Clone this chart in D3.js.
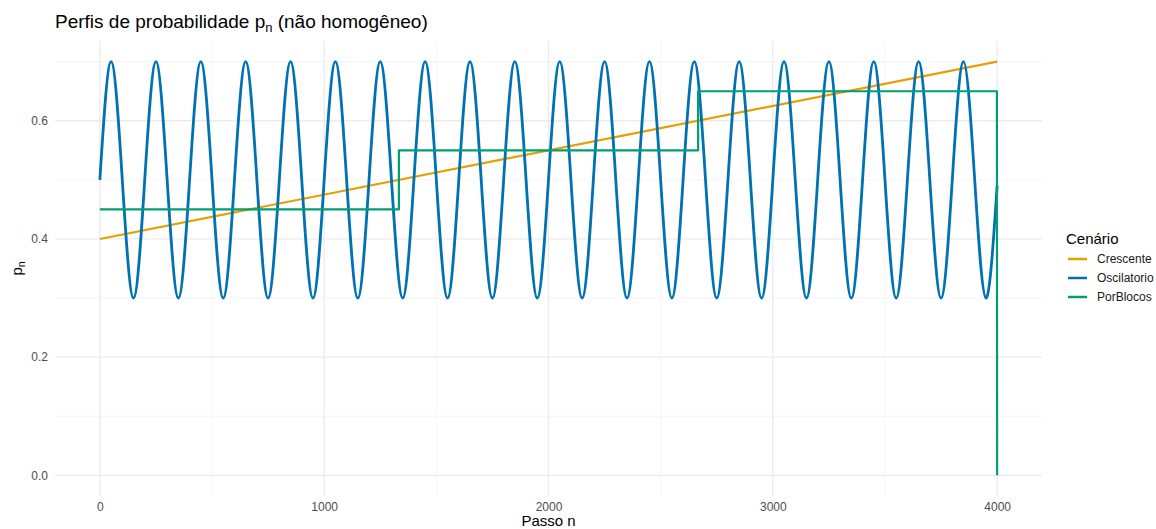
<!DOCTYPE html>
<html>
<head>
<meta charset="utf-8">
<script src="https://cdn.jsdelivr.net/npm/d3@7"></script>
<style>
  body { margin: 0; background: #fff; }
  svg { font-family: "Liberation Sans", Arial, sans-serif; }
</style>
</head>
<body>
<svg id="chart" width="1156" height="529"></svg>
<script>
// Scenario names and colours
const scenarios = ["Crescente", "Oscilatorio", "PorBlocos"];
const scenarioColors = ["#E69F00", "#0072B2", "#009E73"];

// Crescente: linear ramp endpoints
const crescN = [0, 4000];
const crescP = [0.40, 0.70];

// Oscilatorio: value at every quarter period (steps of 50)
const oscN = d3.range(0, 4001, 50);
const oscP = [
  0.5,0.7,0.5,0.3, 0.5,0.7,0.5,0.3, 0.5,0.7,0.5,0.3, 0.5,0.7,0.5,0.3,
  0.5,0.7,0.5,0.3, 0.5,0.7,0.5,0.3, 0.5,0.7,0.5,0.3, 0.5,0.7,0.5,0.3,
  0.5,0.7,0.5,0.3, 0.5,0.7,0.5,0.3, 0.5,0.7,0.5,0.3, 0.5,0.7,0.5,0.3,
  0.5,0.7,0.5,0.3, 0.5,0.7,0.5,0.3, 0.5,0.7,0.5,0.3, 0.5,0.7,0.5,0.3,
  0.5,0.7,0.5,0.3, 0.5,0.7,0.5,0.3, 0.5,0.7,0.5,0.3, 0.5,0.7,0.5,0.3,
  0.49
];

// PorBlocos: step profile (value holds until the next breakpoint)
const blocoN = [0, 1333, 1333, 2667, 2667, 3999, 4000];
const blocoP = [0.45, 0.45, 0.55, 0.55, 0.65, 0.65, 0.0];

// Axis ticks
const xTicks = [0, 1000, 2000, 3000, 4000];
const xMinor = [500, 1500, 2500, 3500];
const yTicks = [0.0, 0.2, 0.4, 0.6];
const yMinor = [0.1, 0.3, 0.5, 0.7];

const svg = d3.select("#chart");
const panel = { left: 55, right: 1042, top: 41, bottom: 496 };

const x = d3.scaleLinear().domain([-200, 4200]).range([panel.left, panel.right]);
const y = d3.scaleLinear().domain([-0.035, 0.735]).range([panel.bottom, panel.top]);

// Grid lines
const g = svg.append("g");
g.selectAll(".xmin").data(xMinor).join("line")
  .attr("x1", d => x(d)).attr("x2", d => x(d))
  .attr("y1", panel.top).attr("y2", panel.bottom)
  .attr("stroke", "#f2f2f2").attr("stroke-width", 0.8);
g.selectAll(".ymin").data(yMinor).join("line")
  .attr("y1", d => y(d)).attr("y2", d => y(d))
  .attr("x1", panel.left).attr("x2", panel.right)
  .attr("stroke", "#f2f2f2").attr("stroke-width", 0.8);
g.selectAll(".xmaj").data(xTicks).join("line")
  .attr("x1", d => x(d)).attr("x2", d => x(d))
  .attr("y1", panel.top).attr("y2", panel.bottom)
  .attr("stroke", "#ebebeb").attr("stroke-width", 1.3);
g.selectAll(".ymaj").data(yTicks).join("line")
  .attr("y1", d => y(d)).attr("y2", d => y(d))
  .attr("x1", panel.left).attr("x2", panel.right)
  .attr("stroke", "#ebebeb").attr("stroke-width", 1.3);

// Axes (labels only, ggplot minimal style)
const xAxis = svg.append("g")
  .attr("transform", `translate(0,${panel.bottom})`)
  .call(d3.axisBottom(x).tickValues(xTicks).tickFormat(d3.format("d")).tickSize(0).tickPadding(6));
const yAxis = svg.append("g")
  .attr("transform", `translate(${panel.left},0)`)
  .call(d3.axisLeft(y).tickValues(yTicks).tickFormat(d3.format(".1f")).tickSize(0).tickPadding(7));
[xAxis, yAxis].forEach(a => {
  a.select(".domain").remove();
  a.selectAll("text").attr("fill", "#4d4d4d").style("font-size", "12px")
    .style("font-family", "'Liberation Sans', Arial, sans-serif");
});

// Series
const line = d3.line().x(d => x(d[0])).y(d => y(d[1]));
const lines = svg.append("g").attr("fill", "none").attr("stroke-linejoin", "round");

lines.append("path")
  .datum(crescN.map((n, i) => [n, crescP[i]]))
  .attr("d", line)
  .attr("stroke", scenarioColors[0]).attr("stroke-width", 2.2);

lines.append("path")
  .datum(oscN.map((n, i) => [n, oscP[i]]))
  .attr("d", d3.line().x(d => x(d[0])).y(d => y(d[1])).curve(d3.curveNatural))
  .attr("stroke", scenarioColors[1]).attr("stroke-width", 2.8);

lines.append("path")
  .datum(blocoN.map((n, i) => [n, blocoP[i]]))
  .attr("d", line)
  .attr("stroke", scenarioColors[2]).attr("stroke-width", 2.2);

// Title
const title = svg.append("text").attr("x", panel.left).attr("y", 28)
  .style("font-size", "19px").attr("fill", "#000");
title.append("tspan").text("Perfis de probabilidade p");
title.append("tspan").text("n").style("font-size", "13px").attr("dy", 4);
title.append("tspan").text(" (não homogêneo)").attr("dy", -4);

// Axis titles
svg.append("text").attr("x", (panel.left + panel.right) / 2).attr("y", 526)
  .attr("text-anchor", "middle").style("font-size", "15px").text("Passo n");
const yt = svg.append("text")
  .attr("transform", `translate(22,${(panel.top + panel.bottom) / 2}) rotate(-90)`)
  .attr("text-anchor", "middle").style("font-size", "15px");
yt.append("tspan").text("p");
yt.append("tspan").text("n").style("font-size", "10.5px").attr("dy", 3);

// Legend
const leg = svg.append("g").attr("transform", "translate(1066,0)");
leg.append("text").attr("x", 0).attr("y", 244).style("font-size", "15px").text("Cenário");
scenarios.forEach((s, i) => {
  const cy = 259 + i * 19;
  leg.append("line").attr("x1", 2).attr("x2", 21).attr("y1", cy).attr("y2", cy)
    .attr("stroke", scenarioColors[i]).attr("stroke-width", 2.5);
  leg.append("text").attr("x", 31).attr("y", cy + 4).style("font-size", "12px")
    .attr("fill", "#1a1a1a").text(s);
});
</script>
</body>
</html>
